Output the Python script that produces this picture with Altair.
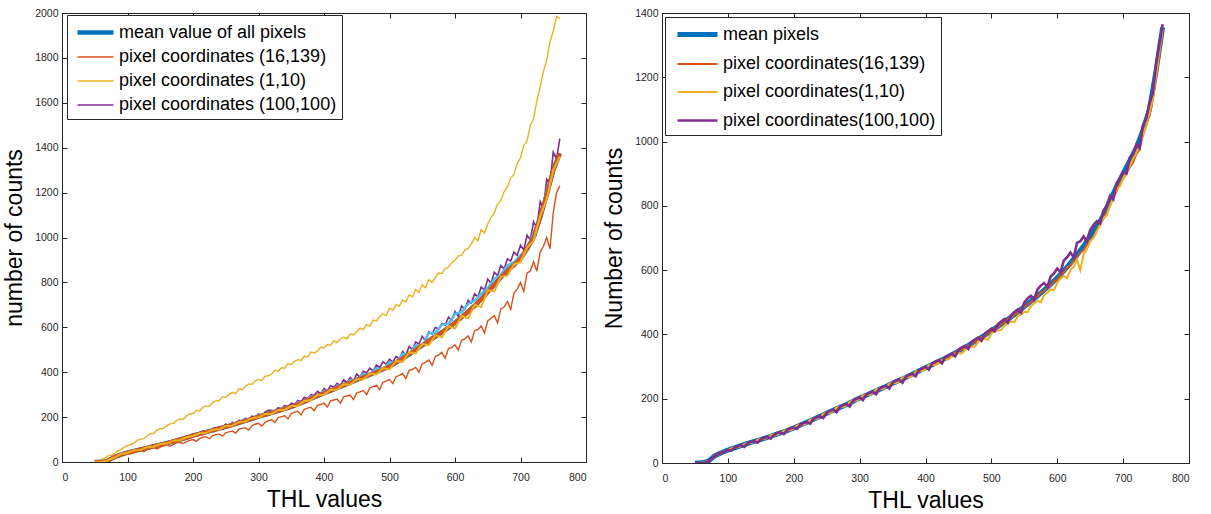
import altair as alt
import pandas as pd

# THL values (x)
THL10 = list(range(50, 761, 10))
THL5 = list(range(50, 761, 5))

# ---------------- left panel ----------------
L_MEAN = [0, 0, 6, 22, 33, 42, 49, 56, 63, 70, 77, 84, 92, 100, 108, 118, 125, 133, 141, 149,
          157, 165, 174, 183, 192, 202, 210, 219, 228, 237, 246, 257, 269, 282, 294, 307, 318, 330, 341, 353,
          366, 377, 389, 401, 413, 425, 443, 461, 480, 499, 519, 540, 559, 578, 598, 620, 645, 670, 696, 725,
          758, 790, 822, 852, 878, 905, 950, 1000, 1090, 1190, 1300, 1375]
L_LIGHTBLUE = [0, 0, 5, 24, 31, 45, 47, 58, 61, 73, 75, 88, 90, 104, 106, 121, 123, 137, 139, 153,
               155, 170, 172, 188, 190, 207, 208, 225, 226, 243, 244, 265, 267, 292, 291, 316, 315, 340, 338, 365,
               362, 392, 386, 418, 410, 445, 440, 482, 478, 520, 515, 575, 575, 612, 615, 660, 668, 705, 718, 750,
               775, 815, 835, 875, 890, 920, 945, 1020, 1085, 1210, 1290, 1370]
L_EXTRA_YELLOW = [0, 0, 8, 20, 36, 40, 52, 54, 66, 68, 80, 82, 95, 97, 110, 116, 128, 130, 144, 146,
                  160, 162, 178, 180, 196, 198, 214, 214, 232, 232, 250, 250, 272, 276, 298, 300, 322, 322, 346, 344,
                  370, 368, 394, 390, 418, 412, 450, 445, 488, 484, 525, 520, 565, 555, 605, 595, 650, 640, 700, 690,
                  765, 760, 825, 830, 880, 890, 955, 985, 1095, 1170, 1300, 1360]
L_PIX_16_139 = [0, 0, 0, 2, 4, 12, 21, 24, 28, 35,
                39, 36, 42, 48, 52, 46, 55, 60, 64, 58,
                66, 72, 76, 70, 78, 85, 88, 82, 90, 96,
                100, 92, 104, 110, 112, 104, 118, 122, 124, 115,
                130, 134, 138, 128, 146, 150, 152, 142, 162, 168,
                172, 160, 176, 184, 188, 176, 198, 202, 206, 192,
                216, 222, 226, 210, 235, 240, 244, 228, 253, 256,
                262, 245, 272, 276, 280, 262, 290, 294, 298, 278,
                308, 312, 318, 300, 330, 336, 342, 322, 355, 360,
                368, 350, 380, 386, 394, 372, 408, 412, 422, 400,
                438, 444, 455, 430, 470, 476, 488, 462, 505, 510,
                522, 498, 542, 548, 562, 535, 585, 590, 606, 575,
                628, 640, 652, 620, 682, 690, 715, 680, 752, 770,
                800, 760, 842, 850, 892, 850, 935, 960, 1000, 950,
                1110, 1200, 1230]
L_PIX_1_10 = [2, 5, 12, 16, 27, 30, 38, 50, 55, 66,
              74, 78, 84, 96, 102, 104, 117, 126, 128, 142,
              148, 150, 162, 170, 172, 185, 192, 190, 206, 214,
              216, 230, 228, 244, 250, 248, 265, 272, 274, 290,
              288, 300, 310, 304, 326, 322, 336, 348, 346, 362,
              368, 362, 382, 384, 392, 408, 404, 420, 418, 438,
              434, 448, 456, 452, 472, 468, 490, 486, 494, 512,
              508, 522, 520, 540, 532, 548, 556, 548, 570, 566,
              580, 596, 590, 612, 604, 632, 628, 648, 660, 652,
              685, 676, 702, 694, 722, 712, 745, 735, 768, 756,
              790, 776, 812, 800, 822, 842, 840, 862, 868, 888,
              900, 918, 920, 945, 950, 972, 1000, 985, 1035, 1020,
              1060, 1090, 1110, 1150, 1165, 1205, 1225, 1265, 1280, 1330,
              1355, 1410, 1430, 1500, 1530, 1610, 1670, 1740, 1790, 1870,
              1920, 1985, 1975]
L_PIX_100_100 = [0, 0, 0, 3, 7, 14, 22, 28, 34, 38,
                 43, 48, 52, 49, 60, 56, 66, 70, 74, 71,
                 82, 78, 88, 94, 97, 92, 106, 104, 116, 112,
                 125, 120, 132, 138, 140, 134, 150, 152, 158, 154,
                 168, 162, 176, 172, 186, 184, 194, 190, 204, 200,
                 214, 206, 222, 230, 230, 226, 242, 236, 252, 246,
                 262, 256, 274, 268, 288, 282, 300, 296, 315, 304,
                 328, 316, 340, 334, 350, 340, 366, 354, 376, 362,
                 392, 378, 404, 398, 418, 405, 432, 420, 446, 436,
                 458, 445, 470, 460, 492, 476, 515, 500, 535, 525,
                 560, 540, 580, 570, 600, 592, 618, 610, 645, 630,
                 670, 648, 695, 680, 720, 708, 750, 735, 780, 765,
                 815, 795, 845, 830, 875, 860, 905, 895, 935, 920,
                 965, 945, 1010, 990, 1070, 1040, 1160, 1130, 1260, 1240,
                 1380, 1350, 1440]

# ---------------- right panel ----------------
R_MEAN = [0, 0, 5, 22, 32, 40, 47, 54, 61, 67, 73, 80, 87, 94, 101, 109, 118, 127, 136, 145,
          155, 164, 173, 182, 192, 202, 211, 220, 229, 238, 248, 257, 266, 276, 286, 296, 306, 316, 326, 337,
          348, 360, 372, 385, 398, 412, 425, 440, 454, 470, 487, 503, 520, 538, 556, 576, 598, 622, 648, 675,
          705, 735, 770, 815, 860, 900, 940, 980, 1035, 1100, 1220, 1355]
R_PIX_16_139 = [0, 0, 0, 2, 4, 12, 21, 25, 31, 34,
                41, 40, 46, 51, 53, 58, 59, 65, 66, 71,
                71, 78, 79, 86, 85, 92, 93, 99, 99, 106,
                107, 114, 116, 124, 125, 132, 134, 142, 143, 152,
                153, 160, 162, 170, 171, 179, 181, 188, 190, 198,
                200, 208, 209, 216, 218, 226, 227, 234, 236, 244,
                246, 254, 255, 262, 264, 272, 274, 282, 284, 292,
                294, 302, 304, 312, 314, 322, 324, 332, 334, 344,
                346, 354, 357, 366, 369, 378, 382, 392, 395, 406,
                409, 418, 422, 432, 437, 448, 451, 462, 466, 478,
                484, 494, 500, 512, 518, 530, 535, 547, 552, 566,
                570, 586, 592, 608, 614, 630, 638, 655, 662, 680,
                690, 705, 725, 745, 760, 780, 800, 825, 845, 868,
                885, 900, 920, 935, 960, 975, 1020, 1050, 1080, 1130,
                1200, 1270, 1345]
R_PIX_1_10 = [0, 0, 0, 3, 6, 13, 23, 28, 33, 37,
              39, 45, 48, 49, 53, 58, 63, 62, 66, 72,
              76, 74, 79, 86, 90, 88, 93, 100, 104, 102,
              107, 116, 121, 119, 125, 134, 139, 137, 143, 152,
              158, 156, 162, 172, 176, 174, 180, 190, 196, 194,
              200, 210, 214, 212, 218, 228, 232, 230, 236, 246,
              251, 248, 254, 266, 268, 266, 272, 284, 288, 286,
              292, 304, 306, 304, 311, 320, 322, 322, 332, 340,
              342, 340, 352, 360, 362, 362, 377, 384, 386, 384,
              402, 410, 412, 414, 428, 436, 440, 438, 456, 462,
              470, 470, 488, 496, 505, 500, 522, 530, 540, 538,
              560, 574, 582, 575, 600, 610, 632, 600, 650, 665,
              690, 700, 720, 740, 762, 770, 800, 825, 850, 860,
              885, 905, 925, 945, 965, 990, 1020, 1050, 1090, 1130,
              1205, 1280, 1350]
R_PIX_100_100 = [0, 0, 0, 1, 5, 14, 22, 28, 33, 36,
                 41, 38, 47, 52, 55, 50, 62, 66, 68, 63,
                 74, 78, 82, 76, 88, 94, 95, 90, 103, 108,
                 110, 106, 120, 124, 128, 122, 138, 142, 146, 140,
                 157, 162, 166, 158, 175, 180, 184, 176, 194, 200,
                 204, 196, 213, 218, 222, 214, 232, 236, 240, 232,
                 250, 256, 259, 250, 268, 274, 278, 270, 289, 294,
                 299, 290, 309, 316, 320, 310, 330, 334, 340, 332,
                 352, 360, 364, 355, 376, 384, 390, 380, 402, 410,
                 418, 410, 432, 440, 448, 436, 460, 470, 478, 468,
                 500, 512, 520, 508, 540, 552, 560, 548, 580, 590,
                 605, 594, 630, 640, 655, 640, 685, 690, 705, 690,
                 725, 740, 752, 745, 785, 800, 830, 820, 870, 885,
                 905, 900, 950, 960, 990, 980, 1050, 1070, 1120, 1150,
                 1240, 1300, 1365]

X_TICKS = [0, 100, 200, 300, 400, 500, 600, 700, 800]
L_Y_TICKS = [0, 200, 400, 600, 800, 1000, 1200, 1400, 1600, 1800, 2000]
R_Y_TICKS = [0, 200, 400, 600, 800, 1000, 1200, 1400]

L_NAMES = ["mean value of all pixels", "pixel coordinates (16,139)",
           "pixel coordinates (1,10)", "pixel coordinates (100,100)"]
R_NAMES = ["mean pixels", "pixel coordinates(16,139)",
           "pixel coordinates(1,10)", "pixel coordinates(100,100)"]
COLORS = ["#0072BD", "#D95319", "#EDB120", "#7E2F8E"]

FONT = "Liberation Sans"
TXT = "#262626"


def long_df(names, series):
    rows = []
    for i, (n, s) in enumerate(zip(names, series)):
        xs = THL10 if len(s) == len(THL10) else THL5
        for x, v in zip(xs, s):
            rows.append({"thl": x, "value": v, "series": n, "k": i})
    return pd.DataFrame(rows)


def single_df(s):
    xs = THL10 if len(s) == len(THL10) else THL5
    return pd.DataFrame({"thl": xs, "value": s})


def panel(names, series, extras, ymax, yticks, ytitle, w, h, widths, sym_path, lab_off,
          row_pad, leg_x, leg_y):
    xs = alt.Scale(domain=[0, 800], nice=False, zero=False)
    ys = alt.Scale(domain=[0, ymax], nice=False)
    xb = alt.X("thl:Q", scale=xs, axis=alt.Axis(
        values=X_TICKS, title="THL values", orient="bottom", offset=-5, tickSize=5,
        domain=False, grid=False, labelPadding=10, titlePadding=6, format="d"))
    yl = alt.Y("value:Q", scale=ys, axis=alt.Axis(
        values=yticks, title=ytitle, orient="left", offset=-5, tickSize=5,
        domain=False, grid=False, labelPadding=4, titlePadding=8, format="d"))
    leg = alt.Legend(title=None, orient="none", legendX=leg_x, legendY=leg_y,
                     symbolType=sym_path, symbolSize=400, labelFontSize=18,
                     labelFont=FONT, labelColor="#000000", labelOffset=lab_off,
                     strokeColor="#262626", fillColor="#ffffff", padding=5,
                     rowPadding=row_pad, labelLimit=400)
    main = alt.Chart(long_df(names, series)).mark_line(clip=True).encode(
        x=xb, y=yl,
        color=alt.Color("series:N", scale=alt.Scale(domain=names, range=COLORS), legend=leg),
        strokeWidth=alt.StrokeWidth("series:N", scale=alt.Scale(type="ordinal", domain=names, range=widths),
                                    legend=leg),
        order=alt.Order("k:Q"),
    )
    layers = [main]
    for s, col, sw in extras:
        layers.append(alt.Chart(single_df(s)).mark_line(clip=True, color=col, strokeWidth=sw).encode(
            x=alt.X("thl:Q", scale=xs, axis=None),
            y=alt.Y("value:Q", scale=ys, axis=None)))
    frame = alt.Chart(single_df(series[0])).mark_line(opacity=0).encode(
        x=alt.X("thl:Q", scale=xs, axis=alt.Axis(
            values=X_TICKS, title=None, orient="top", offset=-5, tickSize=5,
            domain=False, grid=False, labels=False)),
        y=alt.Y("value:Q", scale=ys, axis=alt.Axis(
            values=yticks, title=None, orient="right", offset=-5, tickSize=5,
            domain=False, grid=False, labels=False)))
    layers.append(frame)
    return alt.layer(*layers).resolve_axis(x="independent", y="independent").properties(width=w, height=h)


left = panel(L_NAMES, [L_MEAN, L_PIX_16_139, L_PIX_1_10, L_PIX_100_100],
             [(L_LIGHTBLUE, "#4DBEEE", 2.5), (L_MEAN, "#D95319", 4), (L_EXTRA_YELLOW, "#EDB120", 2)],
             2000, L_Y_TICKS, "number of counts", 524, 449, [4.5, 1.4, 1.4, 1.6],
             "M-0.7,0H2.9", 22, 4, 5, 2)
right = panel(R_NAMES, [R_MEAN, R_PIX_16_139, R_PIX_1_10, R_PIX_100_100], [],
              1400, R_Y_TICKS, "Number of counts", 527, 450, [5, 2, 2, 2.6],
              "M-0.5,0H3.5", 28, 8, 3, 4)

chart = alt.hconcat(left, right, spacing=16).resolve_scale(
    color="independent", strokeWidth="independent").resolve_legend(
    color="independent", strokeWidth="independent").properties(
    padding={"left": 3, "top": 7, "right": 5, "bottom": 0}
).configure(font=FONT).configure_view(stroke=TXT, strokeWidth=1).configure_axis(
    labelFont=FONT, labelFontSize=10.5, labelColor=TXT, tickColor=TXT, tickWidth=1,
    titleFont=FONT, titleFontSize=23, titleFontWeight="normal", titleColor="#000000")

chart.save("out.html", embed_options={"renderer": "svg", "actions": False})
